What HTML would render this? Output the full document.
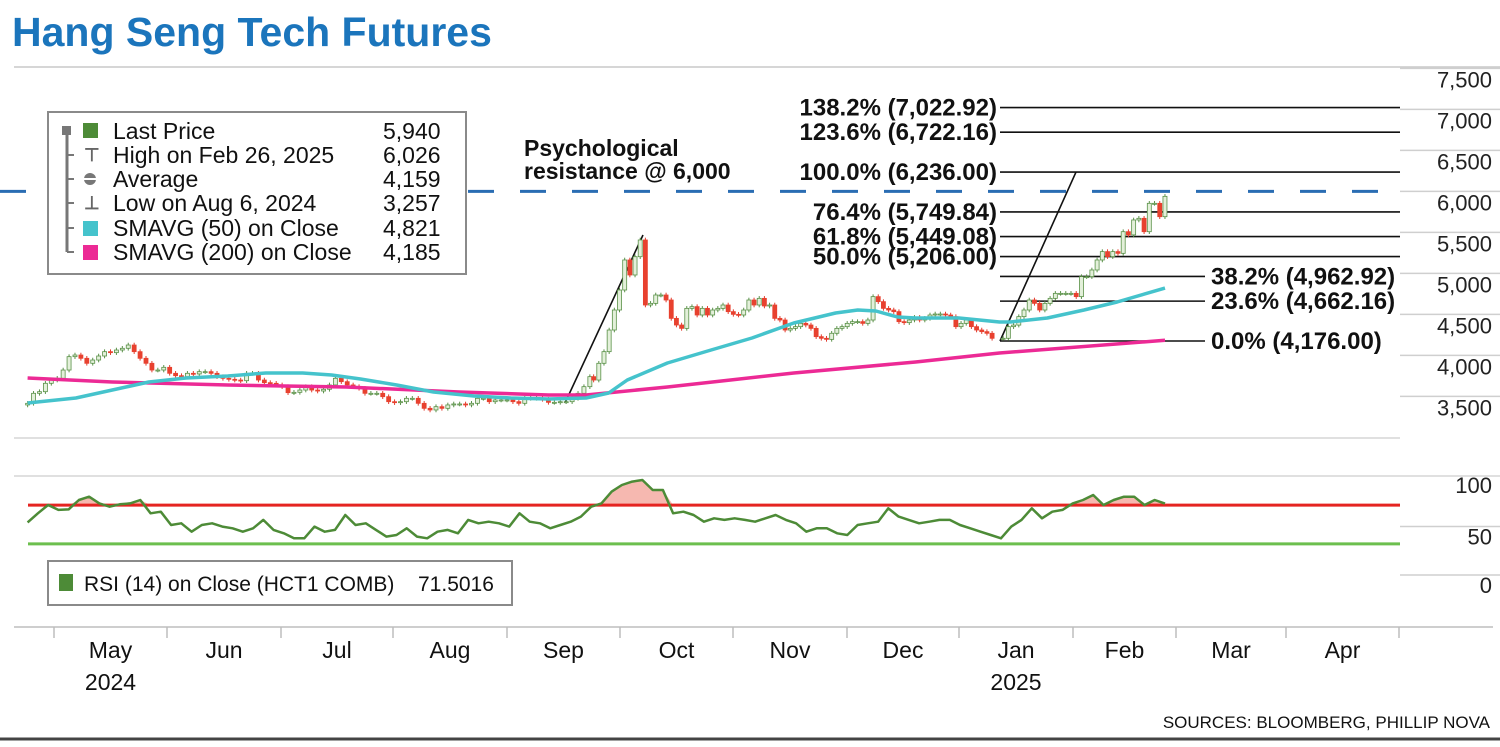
<!DOCTYPE html>
<html><head><meta charset="utf-8">
<style>
html,body{margin:0;padding:0;background:#fff;}
body{width:1500px;height:742px;overflow:hidden;font-family:"Liberation Sans",sans-serif;}
svg text{font-family:"Liberation Sans",sans-serif;}
</style></head>
<body>
<svg id="chart" width="1500" height="742" viewBox="0 0 1500 742" xmlns="http://www.w3.org/2000/svg">
<text x="12" y="46" font-size="41" font-weight="bold" fill="#1b75bc">Hang Seng Tech Futures</text>
<line x1="14" y1="67" x2="1500" y2="67" stroke="#c8c8c8" stroke-width="1.5"/>
<line x1="14" y1="438" x2="1400" y2="438" stroke="#d5d5d5" stroke-width="1.5"/>
<line x1="14" y1="476" x2="1500" y2="476" stroke="#d5d5d5" stroke-width="1.5"/>
<line x1="14" y1="627" x2="1493" y2="627" stroke="#bdbdbd" stroke-width="1.5"/>
<g id="grid"></g>
<g id="fib"></g>
<g id="price"></g>
<g id="rsi"></g>
<g id="xaxis"></g>
<g>
<rect x="48" y="112" width="418" height="162" fill="#fff" stroke="#8a8a8a" stroke-width="2"/>
<line x1="67" y1="131" x2="67" y2="252" stroke="#777" stroke-width="3"/>
<rect x="62" y="126" width="9" height="9" fill="#777"/>
<line x1="67" y1="155" x2="74" y2="155" stroke="#777" stroke-width="2"/>
<line x1="67" y1="179" x2="74" y2="179" stroke="#777" stroke-width="2"/>
<line x1="67" y1="203" x2="74" y2="203" stroke="#777" stroke-width="2"/>
<line x1="67" y1="228" x2="74" y2="228" stroke="#777" stroke-width="2"/>
<line x1="67" y1="252" x2="74" y2="252" stroke="#777" stroke-width="2"/>
<rect x="83" y="123" width="15" height="15" fill="#4d8b37"/>
<text x="84" y="161" font-size="18" font-weight="bold" fill="#666">⊤</text>
<circle cx="90" cy="179" r="6" fill="#777"/><line x1="84" y1="179" x2="96" y2="179" stroke="#fff" stroke-width="2"/>
<text x="84" y="209" font-size="18" font-weight="bold" fill="#666">⊥</text>
<rect x="83" y="221" width="15" height="15" fill="#45c3cc"/>
<rect x="83" y="245" width="15" height="15" fill="#ec2a95"/>
<g font-size="23" fill="#111">
<text x="113" y="139">Last Price</text><text x="383" y="139">5,940</text>
<text x="113" y="163">High on Feb 26, 2025</text><text x="383" y="163">6,026</text>
<text x="113" y="187">Average</text><text x="383" y="187">4,159</text>
<text x="113" y="211">Low on Aug 6, 2024</text><text x="383" y="211">3,257</text>
<text x="113" y="236">SMAVG (50) on Close</text><text x="383" y="236">4,821</text>
<text x="113" y="260">SMAVG (200) on Close</text><text x="383" y="260">4,185</text>
</g></g>
<g>
<rect x="48" y="561" width="464" height="44" fill="#fff" stroke="#8a8a8a" stroke-width="2"/>
<rect x="59" y="574" width="14" height="17" fill="#4d8b37"/>
<text x="84" y="591" font-size="21" fill="#111">RSI (14) on Close (HCT1 COMB)</text>
<text x="418" y="591" font-size="21" fill="#111">71.5016</text>
</g>
<g font-size="23" font-weight="bold" fill="#111">
<text x="524" y="156">Psychological</text>
<text x="524" y="179">resistance @ 6,000</text>
</g>
<text x="1490" y="728" font-size="17" text-anchor="end" fill="#111">SOURCES: BLOOMBERG, PHILLIP NOVA</text>
<line x1="0" y1="739" x2="1500" y2="739" stroke="#444" stroke-width="3"/>
</svg>
<script>
const priceTicks=[3500,4000,4500,5000,5500,6000,6500,7000,7500];
const rsiTicks=[0,50,100];
const monthLabels=["May","Jun","Jul","Aug","Sep","Oct","Nov","Dec","Jan","Feb","Mar","Apr"];
const fibLevels=[138.2,123.6,100.0,76.4,61.8,50.0,38.2,23.6,0.0];
const fibValues=[7022.92,6722.16,6236.00,5749.84,5449.08,5206.00,4962.92,4662.16,4176.00];
const resistance=6000;
const seg1Dates=["2024-04-24","2024-09-23"];
const seg1Close=[3416,3538,3558,3660,3700,3721,3822,3985,4005,3965,3904,3944,3993,4046,4034,4066,4087,4127,4046,3965,3904,3822,3822,3855,3782,3753,3741,3782,3774,3802,3802,3782,3741,3721,3709,3700,3692,3782,3782,3700,3668,3660,3640,3619,3546,3550,3578,3619,3578,3566,3587,3640,3721,3680,3640,3619,3599,3538,3538,3538,3497,3436,3424,3436,3477,3477,3416,3355,3335,3375,3355,3396,3408,3408,3396,3416,3477,3477,3436,3457,3457,3457,3436,3416,3477,3477,3477,3465,3428,3428,3436,3436,3477,3538,3619,3741];
const seg2Dates=["2024-09-24","2025-01-10"];
const seg2Close=[3700,3904,4046,4310,4554,4798,5164,4981,5204,5408,4615,4635,4737,4737,4676,4452,4371,4330,4574,4595,4493,4574,4493,4554,4574,4615,4534,4501,4493,4554,4676,4615,4696,4603,4615,4452,4432,4310,4330,4351,4391,4371,4330,4229,4209,4196,4270,4330,4351,4391,4412,4412,4391,4432,4717,4656,4574,4554,4534,4412,4400,4432,4464,4432,4452,4493,4505,4505,4493,4473,4351,4391,4432,4351,4310,4290,4270,4209];
const seg3Dates=["2025-01-13","2025-02-26"];
const seg3Close=[4209,4351,4370,4473,4554,4676,4635,4554,4635,4696,4757,4757,4757,4757,4717,4961,4961,5042,5164,5266,5205,5266,5245,5509,5470,5652,5672,5509,5855,5855,5692,5940];
const sma50Dates=["2024-04-24","2024-05-07","2024-05-17","2024-05-27","2024-06-06","2024-06-17","2024-06-27","2024-07-07","2024-07-15","2024-07-23","2024-08-02","2024-08-12","2024-08-23","2024-09-02","2024-09-12","2024-09-22","2024-09-28","2024-10-03","2024-10-14","2024-10-26","2024-11-06","2024-11-17","2024-11-28","2024-12-04","2024-12-09","2024-12-15","2024-12-20","2025-01-01","2025-01-12","2025-01-15","2025-01-25","2025-02-04","2025-02-13","2025-02-26"];
const sma50Values=[3420,3481,3578,3676,3725,3749,3786,3786,3761,3713,3639,3554,3505,3481,3469,3481,3542,3700,3908,4066,4213,4395,4517,4554,4542,4469,4457,4457,4408,4408,4457,4554,4652,4821];
const sma200Dates=["2024-04-24","2024-05-17","2024-06-17","2024-07-19","2024-08-19","2024-09-12","2024-09-22","2024-10-14","2024-11-17","2024-12-20","2025-01-12","2025-02-26"];
const sma200Values=[3725,3676,3639,3615,3554,3517,3517,3615,3786,3920,4030,4185];
const rsiDates=["2024-04-24","2025-02-26"];
const rsiValues=[52.2,61.5,70.1,65,65.6,75.3,78.7,71.8,68.4,70.8,71.8,75.3,61.5,63.2,49.5,51.2,42.6,49.5,51.2,47.8,46.1,42.6,46.1,54.7,44.4,40.9,35.8,35.8,47.8,42.6,44.4,59.8,49.5,51.2,44.4,37.5,39.2,46.1,37.5,35.8,42.6,44.4,40.9,54.7,51.2,52.9,51.2,47.8,61.5,52.9,51.2,46.1,49.5,52.9,58.1,68.4,71.8,83.9,90.7,94.2,95.9,85.6,85.6,61.5,63.2,59.8,52.9,56.4,54.7,56.4,54.7,52.9,56.4,59.8,54.7,51.2,42.6,46.1,46.1,40.9,39.2,49.5,51.2,52.9,66.7,58.1,54.7,51.2,52.9,54.7,54.7,49.5,46.1,42.6,39.2,35.8,47.8,54.7,66.7,56.4,63.2,65,71.8,75.3,80.4,70.1,75.3,78.7,78.7,70.1,75.3,71.5];

const NS="http://www.w3.org/2000/svg";
function mk(tag,attrs,parent){const e=document.createElementNS(NS,tag);for(const k in attrs)e.setAttribute(k,attrs[k]);parent.appendChild(e);return e;}
const monthStarts=[[2024,3,-59],[2024,4,54],[2024,5,167],[2024,6,281],[2024,7,393],[2024,8,507],[2024,9,620],[2024,10,733],[2024,11,847],[2025,0,959],[2025,1,1073],[2025,2,1176],[2025,3,1286],[2025,4,1399]];
function xDate(s){const d=new Date(s+"T00:00:00Z");const t=d.getTime();
 for(let i=0;i<monthStarts.length-1;i++){const a=Date.UTC(monthStarts[i][0],monthStarts[i][1],1),b=Date.UTC(monthStarts[i+1][0],monthStarts[i+1][1],1);
  if(t>=a&&t<b)return monthStarts[i][2]+(t-a)/(b-a)*(monthStarts[i+1][2]-monthStarts[i][2]);}
 return monthStarts[monthStarts.length-1][2];}
function yP(v){return 341-(v-4176)*0.0820;}
function yR(v){return 573-v*0.97;}
function segX(dates,n,i){const a=xDate(dates[0]),b=xDate(dates[1]);return n<2?a:a+(b-a)*i/(n-1);}

const grid=document.getElementById('grid');
priceTicks.forEach(v=>{const y=yP(v);
 const l=mk('line',{x1:1400,x2:1500,y1:y,y2:y,stroke:'#cfcfcf','stroke-width':1.5},grid);
 
 
 const t=mk('text',{x:1492,y:y+19,'font-size':22,'text-anchor':'end',fill:'#222'},grid);t.textContent=v.toLocaleString('en-US');
 
 });
rsiTicks.forEach(v=>{const y=yR(v)+(v===100?-1:2);
 if(v!==100){const l=mk('line',{x1:1400,x2:1500,y1:y,y2:y,stroke:'#cfcfcf','stroke-width':1.5},grid);
 
 }
 const t=mk('text',{x:1492,y:y+18,'font-size':22,'text-anchor':'end',fill:'#222'},grid);t.textContent=v;
 
 });

const fib=document.getElementById('fib');
{const y=yP(resistance);const l=mk('line',{x1:0,x2:1400,y1:y,y2:y,stroke:'#2a6db3','stroke-width':3,'stroke-dasharray':'26 26'},fib);
 
 }
fibLevels.forEach((p,i)=>{const v=fibValues[i];const y=yP(v);const upper=p>=50;
 const l=mk('line',{x1:1000,x2:upper?1400:1205,y1:y,y2:y,stroke:'#111','stroke-width':1.6},fib);
 
 
 const t=mk('text',{x:upper?997:1211,y:y+8,'font-size':24,'font-weight':'bold','text-anchor':upper?'end':'start',fill:'#111'},fib);
 t.textContent=p.toFixed(1)+'% ('+v.toLocaleString('en-US',{minimumFractionDigits:2,maximumFractionDigits:2})+')';
 
 });
{const l=mk('line',{x1:1000,y1:yP(fibValues[8]),x2:1076,y2:yP(fibValues[2]),stroke:'#111','stroke-width':1.6},fib);
 
 
 const l2=mk('line',{x1:565,y1:403,x2:643,y2:235,stroke:'#111','stroke-width':1.6},fib);
 
 }

const pg=document.getElementById('price');
let prev=null;
[[seg1Dates,seg1Close],[seg2Dates,seg2Close],[seg3Dates,seg3Close]].forEach(([d,c])=>{
 c.forEach((cl,i)=>{const x=segX(d,c.length,i);const op=prev===null?cl-20:prev;prev=cl;
  const hi=Math.max(op,cl)+28,lo=Math.min(op,cl)-28;const up=cl>=op;
  const w=mk('line',{x1:x,x2:x,y1:yP(hi),y2:yP(lo),stroke:up?'#5a9148':'#e23b2e','stroke-width':1},pg);
  
  
  const yt=yP(Math.max(op,cl)),yb=yP(Math.min(op,cl));
  const r=mk('rect',{x:x-2,y:yt,width:4,height:Math.max(1,yb-yt),fill:up?'#e3f0da':'#e8412f',stroke:up?'#5a9148':'#e8412f','stroke-width':0.8},pg);
  
  });});
function smaPath(dates,vals,color,name){const d=vals.map((v,i)=>(i?'L':'M')+xDate(dates[i]).toFixed(1)+','+yP(v).toFixed(1)).join('');
 const p=mk('path',{d:d,fill:'none',stroke:color,'stroke-width':3.5,'stroke-linejoin':'round'},pg);
 
 }
smaPath(sma200Dates,sma200Values,'#ec2a95','sma200-line');
smaPath(sma50Dates,sma50Values,'#45c3cc','sma50-line');

const rg=document.getElementById('rsi');
const rpts=rsiValues.map((v,i)=>[segX(rsiDates,rsiValues.length,i),yR(v)]);
{let d='';const y70=yR(70);
 for(let i=0;i<rpts.length-1;i++){const [x1,y1]=rpts[i],[x2,y2]=rpts[i+1];
  const a=Math.min(y1,y70),b=Math.min(y2,y70);
  if(y1<y70||y2<y70){d+='M'+x1+','+y70+'L'+x1+','+a+'L'+x2+','+b+'L'+x2+','+y70+'Z';}}
 const f=mk('path',{d:d,fill:'#f6b8b0',stroke:'none'},rg);
 
 }
{const l=mk('line',{x1:28,x2:1400,y1:yR(70),y2:yR(70),stroke:'#e52421','stroke-width':3},rg);
 
 
 const l2=mk('line',{x1:28,x2:1400,y1:yR(30),y2:yR(30),stroke:'#6cbf4e','stroke-width':3},rg);
 
 }
{const p=mk('path',{d:rpts.map((p,i)=>(i?'L':'M')+p[0].toFixed(1)+','+p[1].toFixed(1)).join(''),fill:'none',stroke:'#4d8b37','stroke-width':2.5,'stroke-linejoin':'round'},rg);
 
 }

const xa=document.getElementById('xaxis');
for(let i=1;i<monthStarts.length;i++){const x=monthStarts[i][2];
 const t=mk('line',{x1:x,x2:x,y1:627,y2:638,stroke:'#bdbdbd','stroke-width':1.5},xa);
 
 
 if(i<monthStarts.length-1){const cx=(x+monthStarts[i+1][2])/2;
  const lb=mk('text',{x:cx,y:658,'font-size':23,'text-anchor':'middle',fill:'#111'},xa);lb.textContent=monthLabels[i-1];
  
  
  if(monthLabels[i-1]==='May'||monthLabels[i-1]==='Jan'){const yl=mk('text',{x:cx,y:690,'font-size':23,'text-anchor':'middle',fill:'#111'},xa);yl.textContent=monthStarts[i][0];
  
  }}}
</script>
</body></html>
